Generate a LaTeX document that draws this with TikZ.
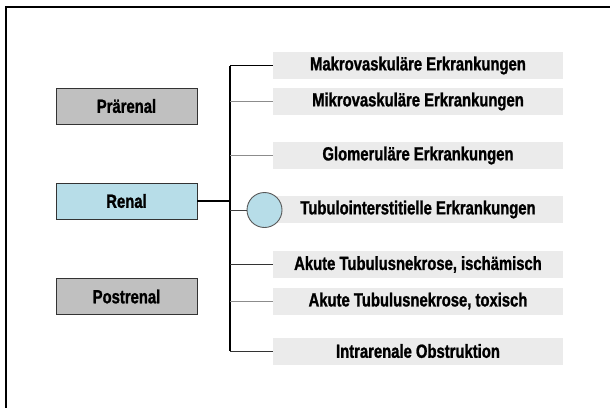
\documentclass[tikz,border=0pt]{standalone}
\usepackage{fontspec}
\setmainfont{Liberation Sans}[FakeStretch=0.78, BoldFeatures={FakeBold=1.2}]
\usetikzlibrary{positioning}
\definecolor{groupgray}{HTML}{C0C0C0}
\definecolor{renalblue}{HTML}{B7DDE8}
\definecolor{itemgray}{HTML}{EBEBEB}
\tikzset{label font/.style={font=\fontsize{19}{21}\selectfont\bfseries}}

\begin{document}
\begin{tikzpicture}[x=1pt, y=-1pt,
    group/.style={rectangle, draw=black!80, line width=0.9pt, minimum width=141pt, minimum height=36pt, inner sep=0pt, label font},
    pre/.style={group, fill=groupgray},
    renal/.style={group, fill=renalblue},
    item/.style={rectangle, fill=itemgray, minimum width=290pt, minimum height=27pt, inner sep=0pt, label font},
    branch/.style={line width=0.9pt},
]
    \useasboundingbox (0,0) rectangle (610,407);
    \clip (0,0) rectangle (610,407);
    \fill[white] (0,0) rectangle (610,407);

    % Frame
    \draw[line width=2.5pt] (6,7) rectangle (640,440);

    % Groups
    \node[pre] (pre) at (126.5, 106) {Prärenal};
    \node[renal] (ren) at (126.5, 201) {Renal};
    \node[pre] (post) at (126.5, 296.5) {Postrenal};

    % Items
    \foreach \i/\y/\txt in {1/65.5/{Makrovaskuläre Erkrankungen},
                           2/101.5/{Mikrovaskuläre Erkrankungen},
                           3/155.5/{Glomeruläre Erkrankungen},
                           4/209.5/{Tubulointerstitielle Erkrankungen},
                           5/264.5/{Akute Tubulusnekrose, ischämisch},
                           6/301/{Akute Tubulusnekrose, toxisch},
                           7/351/{Intrarenale Obstruktion}}
        \node[item] (I-\i) at (418, \y) {\txt};

    % Bus
    \coordinate (bus) at (230, 0);
    \draw[line width=1.3pt] (I-1.west -| bus) -- (I-7.west -| bus);
    \draw[line width=2pt] (ren.east) -- (ren.east -| bus);

    % Marker
    \node[circle, draw=black!65, fill=renalblue, line width=0.9pt, minimum size=35pt, inner sep=0pt] (mark) at (264.5, 210) {};

    % Branches
    \foreach \i/\c in {1/black, 2/black!45, 3/black!45, 5/black!80, 6/black!45, 7/black!80}
        \draw[branch, \c] (I-\i.west -| bus) -- (I-\i.west);
    \draw[branch, black!75] (mark.west -| bus) -- (mark.west);
\end{tikzpicture}
\end{document}
